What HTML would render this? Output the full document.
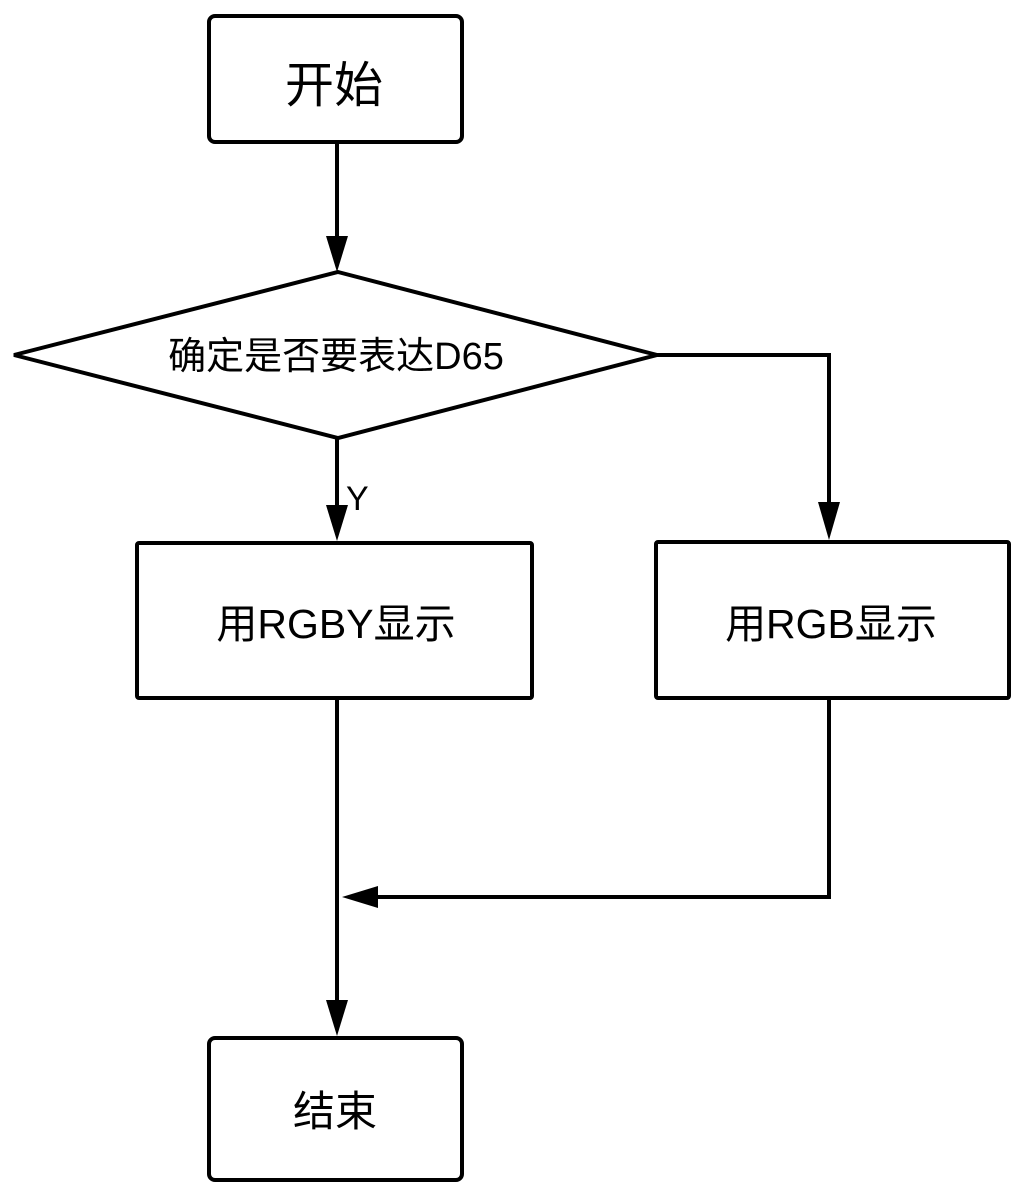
<!DOCTYPE html>
<html><head><meta charset="utf-8"><style>
body{margin:0;background:#fff;}
svg text{font-family:"Liberation Sans","Noto Sans CJK SC",sans-serif;fill:#000;}
</style></head><body>
<svg width="1024" height="1198" viewBox="0 0 1024 1198" xmlns="http://www.w3.org/2000/svg">
<g fill="none" stroke="#000" stroke-width="4">
<rect x="209" y="16" width="253" height="126" rx="6"/>
<polygon points="338,272 657,355 338,438 14,355"/>
<rect x="137" y="543" width="395" height="155" rx="2"/>
<rect x="656" y="542" width="353" height="156" rx="2"/>
<rect x="209" y="1038" width="253" height="142" rx="6"/>
<line x1="337" y1="142" x2="337" y2="240"/>
<line x1="337" y1="438" x2="337" y2="510"/>
<polyline points="657,355 829,355 829,505"/>
<line x1="337" y1="698" x2="337" y2="1000"/>
<polyline points="829,700 829,897 375,897"/>
</g>
<g fill="#000">
<polygon points="326,236 348,236 337,272"/>
<polygon points="326,505 348,505 337,541"/>
<polygon points="818,502 840,502 829,540"/>
<polygon points="326,1000 348,1000 337,1036"/>
<polygon points="378,886 378,908 342,897"/>
</g>
<text x="334" y="102" font-size="49" text-anchor="middle">开始</text>
<text x="336" y="369" font-size="38" text-anchor="middle">确定是否要表达D65</text>
<text x="346" y="510" font-size="34">Y</text>
<text x="336" y="638" font-size="41" text-anchor="middle">用RGBY显示</text>
<text x="831" y="638" font-size="41" text-anchor="middle">用RGB显示</text>
<text x="335" y="1126" font-size="42" text-anchor="middle">结束</text>
</svg>
</body></html>
